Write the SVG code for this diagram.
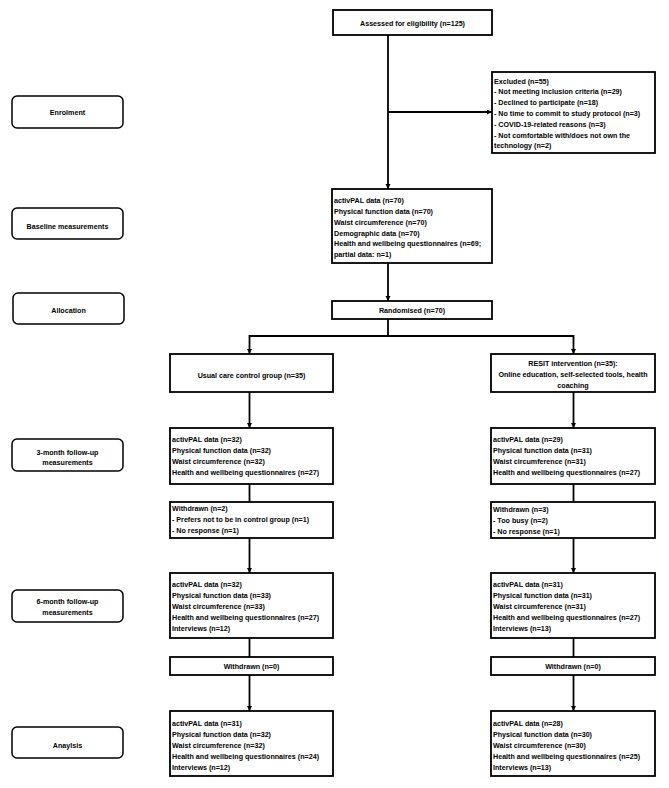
<svg xmlns="http://www.w3.org/2000/svg" width="669" height="788" viewBox="0 0 669 788">
<defs>
<style>
.box{fill:#fff;stroke:#000;stroke-width:1.8}
.lab{fill:#fff;stroke:#000;stroke-width:1.5}
text{font-family:"Liberation Sans",Arial,sans-serif;font-weight:bold;font-size:7.15px;fill:#000}
.c{text-anchor:middle}
.ln{fill:none;stroke:#000;stroke-width:1.8}
</style>
<marker id="ah" markerUnits="userSpaceOnUse" markerWidth="6" markerHeight="6" refX="5" refY="2.5" orient="auto"><path d="M0,0 L5,2.5 L0,5 z" fill="#000"/></marker>
</defs>
<rect width="669" height="788" fill="#fff"/>

<g id="connectors">
<path class="ln" d="M388,35 V189" marker-end="url(#ah)"/>
<path class="ln" d="M388,112 H492" marker-end="url(#ah)"/>
<path class="ln" d="M388,263 V301" marker-end="url(#ah)"/>
<path class="ln" d="M388,319 V336 H249.5 V354" marker-end="url(#ah)"/>
<path class="ln" d="M388,336 H573.5 V354" marker-end="url(#ah)"/>
<path class="ln" d="M249.5,392 V428" marker-end="url(#ah)"/>
<path class="ln" d="M573.5,392 V428" marker-end="url(#ah)"/>
<path class="ln" d="M249.5,484 V502"/>
<path class="ln" d="M573.5,484 V502"/>
<path class="ln" d="M249.5,538 V573" marker-end="url(#ah)"/>
<path class="ln" d="M573.5,538 V573" marker-end="url(#ah)"/>
<path class="ln" d="M249.5,638 V657"/>
<path class="ln" d="M573.5,638 V657"/>
<path class="ln" d="M249.5,675 V711" marker-end="url(#ah)"/>
<path class="ln" d="M573.5,675 V711" marker-end="url(#ah)"/>
</g>

<g id="lab-enrolment"><rect class="lab" x="12" y="96" width="111" height="32" rx="5"/><text class="c" x="67.5" y="114.5">Enrolment</text></g>
<g id="lab-baseline"><rect class="lab" x="12" y="208" width="111" height="31" rx="5"/><text class="c" x="67.5" y="229">Baseline measurements</text></g>
<g id="lab-allocation"><rect class="lab" x="13" y="293" width="111" height="31" rx="5"/><text class="c" x="68.5" y="312.5">Allocation</text></g>
<g id="lab-3month"><rect class="lab" x="12" y="439" width="111" height="32" rx="5"/><text class="c" x="67.5" y="455">3-month follow-up</text><text class="c" x="67.5" y="465">measurements</text></g>
<g id="lab-6month"><rect class="lab" x="12" y="590" width="111" height="32" rx="5"/><text class="c" x="67.5" y="604">6-month follow-up</text><text class="c" x="67.5" y="614.5">measurements</text></g>
<g id="lab-analysis"><rect class="lab" x="12" y="727" width="111" height="31" rx="5"/><text class="c" x="67.5" y="747.5">Anaylsis</text></g>

<g id="assessed"><rect class="box" x="333" y="10" width="159" height="25"/><text class="c" x="412.5" y="26">Assessed for eligibility (n=125)</text></g>

<g id="excluded"><rect class="box" x="492" y="72" width="163" height="81"/>
<text x="494" y="83.5">Excluded (n=55)</text>
<text x="494" y="94.3">- Not meeting inclusion criteria (n=29)</text>
<text x="494" y="105.1">- Declined to participate (n=18)</text>
<text x="494" y="115.9">- No time to commit to study protocol (n=3)</text>
<text x="494" y="126.7">- COVID-19-related reasons (n=3)</text>
<text x="494" y="137.5">- Not comfortable with/does not own the</text>
<text x="494" y="148.3">technology (n=2)</text>
</g>

<g id="baseline"><rect class="box" x="332" y="189" width="160" height="74"/>
<text x="334" y="203.2">activPAL data (n=70)</text>
<text x="334" y="214">Physical function data (n=70)</text>
<text x="334" y="224.8">Waist circumference (n=70)</text>
<text x="334" y="235.6">Demographic data (n=70)</text>
<text x="334" y="246.4">Health and wellbeing questionnaires (n=69;</text>
<text x="334" y="257.2">partial data: n=1)</text>
</g>

<g id="randomised"><rect class="box" x="332" y="301" width="160" height="18"/><text class="c" x="412" y="312.5">Randomised (n=70)</text></g>

<g id="usual"><rect class="box" x="170" y="354" width="163" height="38"/><text class="c" x="251.5" y="377.5">Usual care control group (n=35)</text></g>
<g id="resit"><rect class="box" x="491" y="354" width="164" height="38"/>
<text class="c" x="573" y="366">RESIT intervention (n=35):</text>
<text class="c" x="573" y="377">Online education, self-selected tools, health</text>
<text class="c" x="573" y="388">coaching</text>
</g>

<g id="usual-3m"><rect class="box" x="170" y="428" width="163" height="56"/>
<text x="172" y="441.5">activPAL data (n=32)</text>
<text x="172" y="452.5">Physical function data (n=32)</text>
<text x="172" y="463.5">Waist circumference (n=32)</text>
<text x="172" y="474.5">Health and wellbeing questionnaires (n=27)</text>
</g>
<g id="resit-3m"><rect class="box" x="491" y="428" width="164" height="56"/>
<text x="493" y="441.5">activPAL data (n=29)</text>
<text x="493" y="452.5">Physical function data (n=31)</text>
<text x="493" y="463.5">Waist circumference (n=31)</text>
<text x="493" y="474.5">Health and wellbeing questionnaires (n=27)</text>
</g>

<g id="usual-wd1"><rect class="box" x="170" y="502" width="163" height="36"/>
<text x="172" y="511">Withdrawn (n=2)</text>
<text x="172" y="522.2">- Prefers not to be in control group (n=1)</text>
<text x="172" y="533.3">- No response (n=1)</text>
</g>
<g id="resit-wd1"><rect class="box" x="491" y="502" width="164" height="36"/>
<text x="493" y="511.5">Withdrawn (n=3)</text>
<text x="493" y="522.5">- Too busy (n=2)</text>
<text x="493" y="533.5">- No response (n=1)</text>
</g>

<g id="usual-6m"><rect class="box" x="170" y="573" width="163" height="65"/>
<text x="172" y="586.5">activPAL data (n=32)</text>
<text x="172" y="597.5">Physical function data (n=33)</text>
<text x="172" y="608.5">Waist circumference (n=33)</text>
<text x="172" y="619.5">Health and wellbeing questionnaires (n=27)</text>
<text x="172" y="630.5">Interviews (n=12)</text>
</g>
<g id="resit-6m"><rect class="box" x="491" y="573" width="164" height="65"/>
<text x="493" y="586.5">activPAL data (n=31)</text>
<text x="493" y="597.5">Physical function data (n=31)</text>
<text x="493" y="608.5">Waist circumference (n=31)</text>
<text x="493" y="619.5">Health and wellbeing questionnaires (n=27)</text>
<text x="493" y="630.5">Interviews (n=13)</text>
</g>

<g id="usual-wd2"><rect class="box" x="170" y="657" width="163" height="18"/><text class="c" x="251.5" y="668.5">Withdrawn (n=0)</text></g>
<g id="resit-wd2"><rect class="box" x="491" y="657" width="164" height="18"/><text class="c" x="573" y="668.5">Withdrawn (n=0)</text></g>

<g id="usual-an"><rect class="box" x="170" y="711" width="163" height="65"/>
<text x="172" y="725.8">activPAL data (n=31)</text>
<text x="172" y="736.8">Physical function data (n=32)</text>
<text x="172" y="747.8">Waist circumference (n=32)</text>
<text x="172" y="758.8">Health and wellbeing questionnaires (n=24)</text>
<text x="172" y="769.8">Interviews (n=12)</text>
</g>
<g id="resit-an"><rect class="box" x="491" y="711" width="164" height="65"/>
<text x="493" y="725.8">activPAL data (n=28)</text>
<text x="493" y="736.8">Physical function data (n=30)</text>
<text x="493" y="747.8">Waist circumference (n=30)</text>
<text x="493" y="758.8">Health and wellbeing questionnaires (n=25)</text>
<text x="493" y="769.8">Interviews (n=13)</text>
</g>
</svg>
